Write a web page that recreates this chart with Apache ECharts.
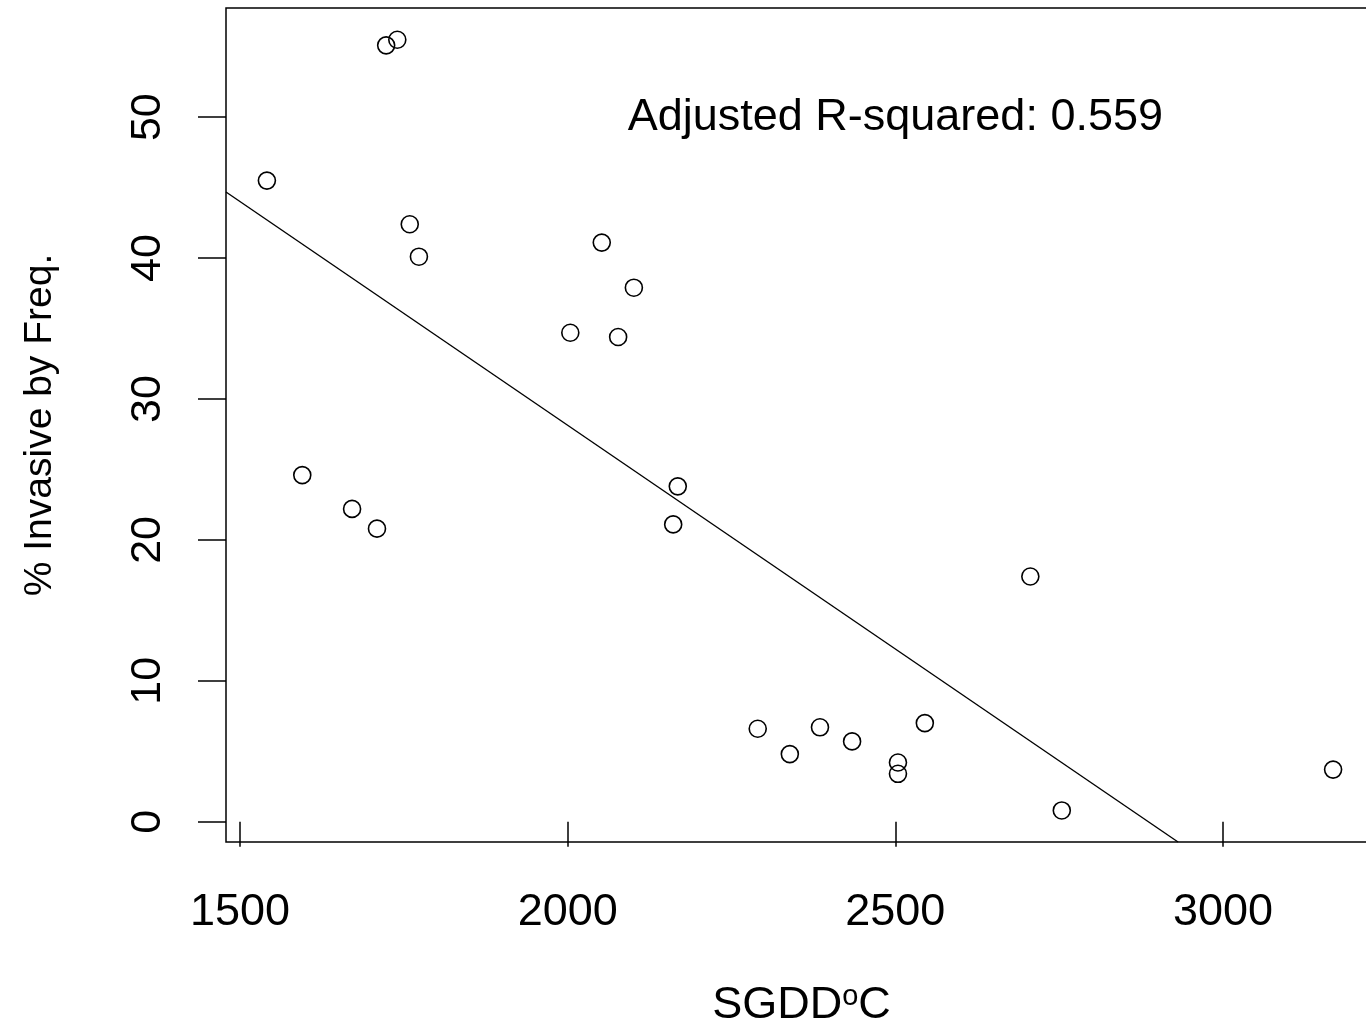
<!DOCTYPE html>
<html>
<head>
<meta charset="utf-8">
<script src="https://cdn.jsdelivr.net/npm/echarts@6/dist/echarts.min.js"></script>
<style>
html,body{margin:0;padding:0;background:#fff;}
#chart{width:1366px;height:1027px;}
</style>
</head>
<body>
<div id="chart"></div>
<script>
// Data
const sgdd = [1541,1595,1671,1709,1723,1740,1759,1773,2004,2052,2077,2101,2161,2168,2290,2339,2385,2434,2504,2504,2545,2706,2754,3168];
const invasive = [45.5,24.6,22.2,20.8,55.1,55.5,42.4,40.1,34.7,41.1,34.4,37.9,21.1,23.8,6.6,4.8,6.7,5.7,4.2,3.4,7.0,17.4,0.8,3.7];
const fitLineX = [1478.6, 2931.4];
const fitLineY = [44.69, -1.44];
const xTicks = [1500, 2000, 2500, 3000];
const yTicks = [0, 10, 20, 30, 40, 50];
const annotationText = 'Adjusted R-squared: 0.559';
const annotationPos = [2500, 50];

const FONT = '"Liberation Sans", Arial, sans-serif';
const chart = echarts.init(document.getElementById('chart'));
chart.setOption({
  backgroundColor: '#fff',
  animation: false,
  grid: {
    left: 226, top: 8, width: 1151, height: 834,
    outerBoundsMode: 'none', containLabel: false,
    show: true, borderColor: '#000', borderWidth: 1.5, backgroundColor: 'transparent'
  },
  xAxis: {
    type: 'value', min: 1478.6, max: 3235,
    splitLine: { show: false },
    axisLine: { show: false },
    axisTick: { show: true, length: 25, inside: false, customValues: xTicks, lineStyle: { color: '#000', width: 1.5 } },
    axisLabel: { customValues: xTicks, fontSize: 45, color: '#000', fontFamily: FONT, margin: 48,
      formatter: v => String(v) },
    name: 'SGDD{sup|o}C',
    nameLocation: 'middle', nameGap: 140,
    nameTextStyle: {
      fontSize: 45, color: '#000', fontFamily: FONT, lineHeight: 48,
      rich: { sup: { fontSize: 29, fontFamily: FONT, color: '#000', verticalAlign: 'top', lineHeight: 48 } }
    }
  },
  yAxis: {
    type: 'value', min: -1.44, max: 57.75,
    splitLine: { show: false },
    axisLine: { show: false },
    axisTick: { show: true, length: 28, inside: false, customValues: yTicks, lineStyle: { color: '#000', width: 1.5 } },
    axisLabel: { customValues: yTicks, rotate: 90, fontSize: 43, color: '#000', fontFamily: FONT, margin: 56,
      formatter: v => String(v) },
    name: '% Invasive by Freq.',
    nameLocation: 'middle', nameGap: 166, nameRotate: 90,
    nameTextStyle: { fontSize: 39, color: '#000', fontFamily: FONT }
  },
  series: [
    {
      type: 'line',
      data: fitLineX.map((x, i) => [x, fitLineY[i]]),
      symbol: 'none',
      lineStyle: { color: '#000', width: 1.4 },
      silent: true
    },
    {
      type: 'scatter',
      data: sgdd.map((x, i) => [x, invasive[i]]),
      symbol: 'circle',
      symbolSize: 17,
      itemStyle: { color: 'rgba(0,0,0,0)', borderColor: '#000', borderWidth: 1.6, opacity: 1 }
    },
    {
      type: 'scatter',
      data: [annotationPos],
      symbolSize: 0,
      itemStyle: { opacity: 1 },
      label: {
        show: true, position: 'inside', formatter: annotationText,
        fontSize: 45, color: '#000', fontFamily: FONT, opacity: 1
      }
    }
  ]
});
</script>
</body>
</html>
